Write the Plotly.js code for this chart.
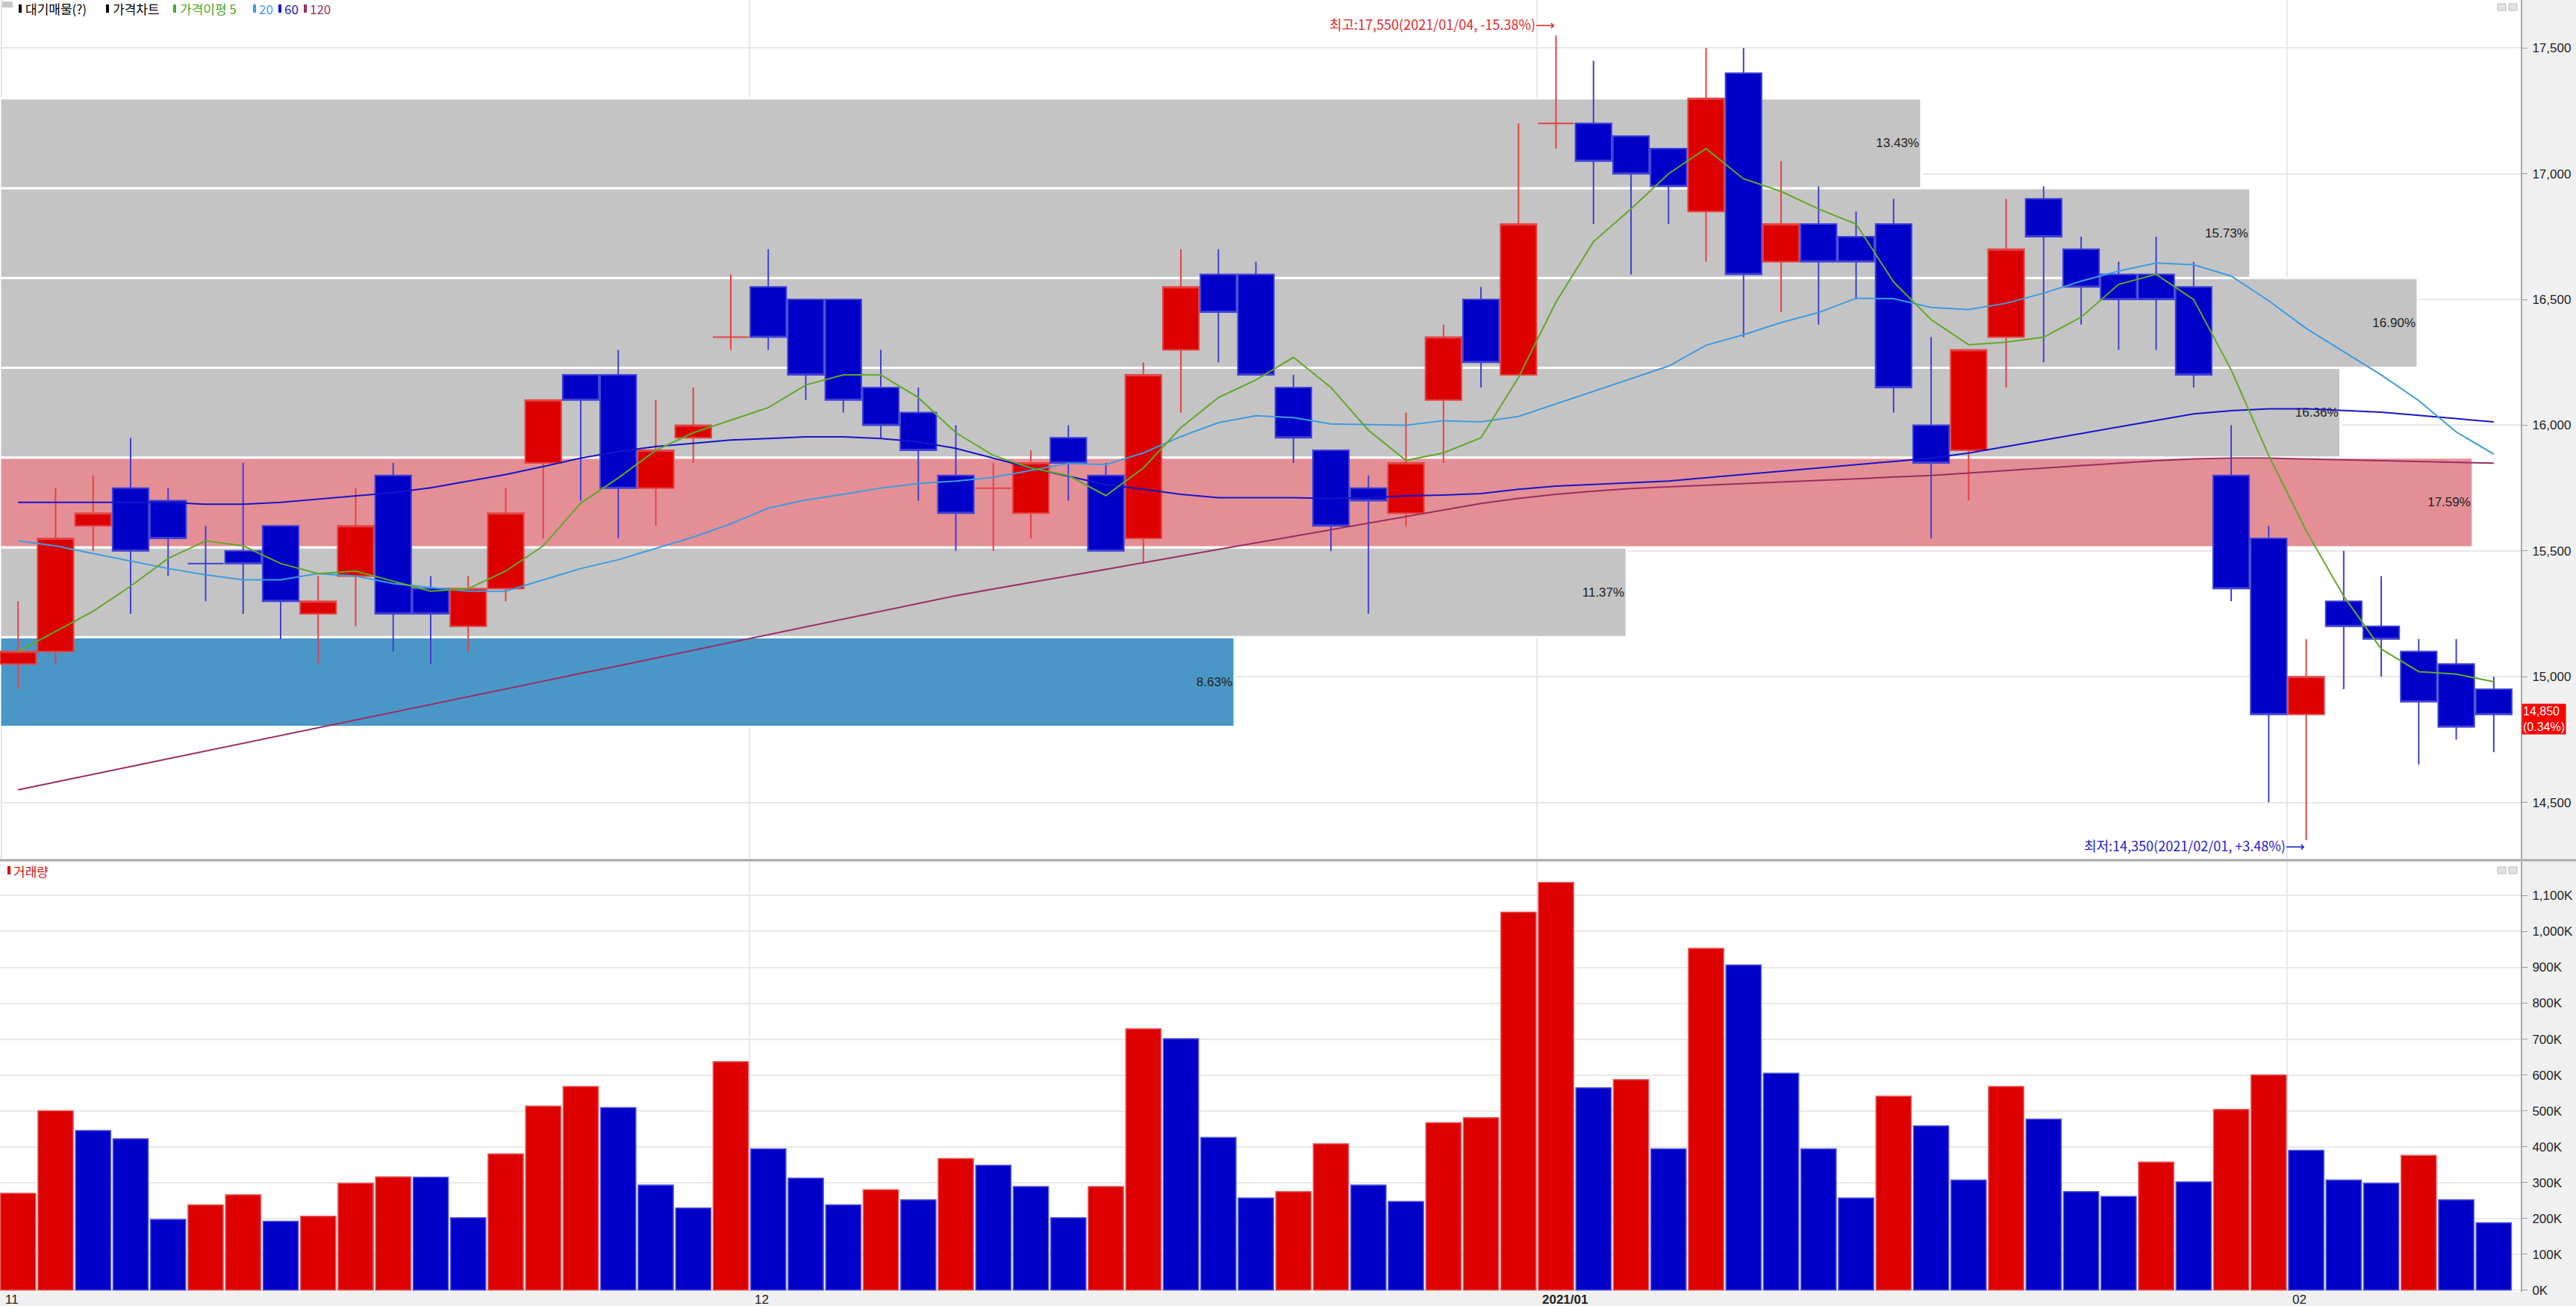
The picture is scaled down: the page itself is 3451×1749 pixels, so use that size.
<!DOCTYPE html>
<html><head><meta charset="utf-8">
<script src="https://cdn.plot.ly/plotly-3.0.1.min.js"></script>
<style>html,body{margin:0;padding:0;background:#f0f0f0;overflow:hidden}#chart{width:3451px;height:1749px}</style>
</head><body><div id="chart"></div>
<script>
// ---------------- data ----------------
const dates = ['2020/11/03','2020/11/04','2020/11/05','2020/11/06','2020/11/09','2020/11/10','2020/11/11','2020/11/12','2020/11/13','2020/11/16','2020/11/17','2020/11/18','2020/11/19','2020/11/20','2020/11/23','2020/11/24','2020/11/25','2020/11/26','2020/11/27','2020/11/30',
'2020/12/01','2020/12/02','2020/12/03','2020/12/04','2020/12/07','2020/12/08','2020/12/09','2020/12/10','2020/12/11','2020/12/14','2020/12/15','2020/12/16','2020/12/17','2020/12/18','2020/12/21','2020/12/22','2020/12/23','2020/12/24','2020/12/28','2020/12/29','2020/12/30',
'2021/01/04','2021/01/05','2021/01/06','2021/01/07','2021/01/08','2021/01/11','2021/01/12','2021/01/13','2021/01/14','2021/01/15','2021/01/18','2021/01/19','2021/01/20','2021/01/21','2021/01/22','2021/01/25','2021/01/26','2021/01/27','2021/01/28','2021/01/29',
'2021/02/01','2021/02/02','2021/02/03','2021/02/04','2021/02/05','2021/02/08'];
const open  = [15050,15100,15600,15750,15700,15450,15500,15600,15250,15400,15800,15350,15200,15350,15850,16200,16200,15750,15950,16350,16550,16500,16500,16150,16050,15800,15750,15650,15950,15800,15550,16300,16600,16600,16150,15900,15750,15650,16100,16500,16200,17200,17200,17150,17100,16850,17400,16650,16800,16750,16800,16000,15900,16350,16900,16700,16600,16600,16550,15800,15550,14850,15300,15200,15100,15050,14950];
const high  = [15300,15750,15800,15950,15750,15600,15850,15600,15400,15750,15850,15400,15400,15750,16100,16200,16300,16100,16150,16600,16700,16500,16500,16300,16150,16000,15850,15900,16000,15850,16250,16700,16700,16650,16200,15900,15800,16050,16400,16550,17200,17550,17450,17150,17100,17500,17500,17050,16950,16850,16900,16350,16300,16900,16950,16750,16650,16750,16650,16000,15600,15150,15500,15400,15150,15150,15000];
const low   = [14950,15050,15500,15250,15400,15300,15250,15150,15050,15200,15100,15050,15100,15300,15550,15700,15550,15600,15850,16300,16300,16100,16050,15950,15700,15500,15500,15550,15700,15500,15450,16050,16250,16200,15850,15500,15250,15600,15850,16150,16200,17100,16800,16600,16800,16650,16350,16450,16400,16500,16050,15550,15700,16150,16250,16400,16300,16300,16150,15300,14500,14350,14950,15000,14650,14750,14700];
const close = [15100,15550,15650,15500,15550,15450,15450,15300,15300,15600,15250,15250,15350,15650,16100,16100,15750,15900,16000,16350,16350,16200,16100,16000,15900,15650,15750,15850,15850,15500,16200,16550,16450,16200,15950,15600,15700,15850,16350,16250,16800,17200,17050,17000,16950,17300,16600,16800,16650,16650,16150,15850,16300,16700,16750,16550,16500,16500,16200,15350,14850,15000,15200,15150,14900,14800,14850];
const volume = [270000,500000,445000,422000,197000,238000,266000,192000,206000,298000,316000,315000,202000,380000,513000,568000,509000,293000,229000,637000,394000,312000,238000,280000,252000,367000,348000,289000,202000,289000,729000,701000,426000,257000,275000,408000,293000,247000,467000,481000,1054000,1137000,564000,587000,394000,953000,907000,605000,394000,257000,541000,458000,307000,568000,477000,275000,261000,357000,302000,504000,600000,390000,307000,298000,376000,252000,188000];
const ma5   = [15100,15180,15260,15360,15470,15540,15520,15450,15410,15420,15380,15340,15350,15420,15520,15690,15790,15900,15970,16020,16070,16160,16200,16200,16110,15970,15880,15830,15800,15720,15830,15990,16110,16180,16270,16150,15980,15860,15890,15950,16190,16490,16730,16860,17000,17100,16980,16930,16860,16800,16570,16420,16320,16330,16350,16430,16560,16600,16500,16220,15880,15580,15320,15110,15020,15010,14980];
const ma20  = [15540,15520,15490,15460,15430,15405,15385,15385,15410,15400,15370,15355,15340,15340,15385,15430,15465,15510,15555,15608,15670,15703,15725,15750,15768,15778,15793,15820,15848,15843,15890,15955,16010,16038,16030,16005,16003,16000,16018,16013,16035,16085,16133,16183,16235,16318,16360,16408,16448,16505,16503,16468,16460,16485,16525,16573,16613,16645,16638,16593,16495,16385,16293,16200,16098,15973,15885];
const ma60  = [15693,15693,15693,15693,15693,15686,15686,15693,15706,15719,15732,15751,15778,15804,15836,15869,15895,15915,15928,15941,15947,15954,15954,15947,15934,15908,15869,15830,15797,15764,15745,15725,15712,15712,15712,15709,15712,15719,15722,15728,15745,15758,15764,15771,15778,15791,15804,15817,15830,15843,15856,15869,15889,15915,15941,15967,15993,16019,16045,16058,16065,16065,16058,16052,16039,16026,16013];
const ma120 = [14550,14581,14611,14642,14672,14704,14735,14766,14797,14827,14858,14889,14920,14951,14982,15013,15043,15074,15105,15136,15167,15197,15228,15260,15291,15322,15349,15374,15401,15427,15454,15480,15506,15532,15558,15585,15611,15638,15664,15689,15709,15725,15738,15748,15755,15761,15768,15774,15781,15787,15794,15800,15810,15820,15830,15840,15849,15859,15866,15869,15869,15866,15862,15859,15856,15853,15849];
// waiting-supply (대기매물) bands, bottom to top, share of volume in %
const bandPct = [8.63, 11.37, 17.59, 16.36, 16.90, 15.73, 13.43];
const priceTicks = [14500, 15000, 15500, 16000, 16500, 17000, 17500];
const volTicks = [0,100000,200000,300000,400000,500000,600000,700000,800000,900000,1000000,1100000];

// ---------------- geometry / style ----------------
const W = 3451, H = 1749, MR = 74, MB = 19;
const PW = W - MR, PH = H - MB;
const px = v => v / PW;
const py = v => 1 - v / PH;
const RED = '#dc0000', BLUE = '#0000c8';
const FONT = 'Liberation Sans, Arial, sans-serif';
const KFONT = 'Noto Sans CJK KR, DejaVu Sans, sans-serif';
const idx = dates.map((d, i) => i);
const xr = [-0.482, 66.72];
const priceDom = [py(1150), 1], volDom = [0, py(1154)];
const priceRange = [14276, 17691], volRange = [-4800, 1194700];
const pctRange = 17.62, pctCap = 0.981 * pctRange;

// candle direction
const dir = close.map((c, i) => c > open[i] ? 1 : c < open[i] ? -1 : (i > 0 && c < close[i - 1] ? -1 : 1));
function sub(arr, d) { return arr.filter((v, i) => dir[i] === d); }
function candle(d, fill, line) {
  const s = {line: {color: line, width: 2}, fillcolor: fill};
  return {type: 'candlestick', xaxis: 'x2', yaxis: 'y', x: sub(idx, d), open: sub(open, d), high: sub(high, d),
    low: sub(low, d), close: sub(close, d), increasing: s, decreasing: s, whiskerwidth: 0, hoverinfo: 'skip', showlegend: false};
}

// bands
const lo = Math.min(...close), hi = Math.max(...close), step = (hi - lo) / bandPct.length;
const bandMid = bandPct.map((p, i) => lo + step * (i + 0.5));
const maxBand = bandPct.indexOf(Math.max(...bandPct));
const last = close[close.length - 1];
const curBand = Math.min(bandPct.length - 1, Math.floor((last - lo) / step));
const bandColor = bandPct.map((p, i) => i === curBand ? '#4a97c7' : i === maxBand ? '#e48f96' : '#c4c4c4');

const traces = [];
traces.push({type: 'bar', orientation: 'h', xaxis: 'x', yaxis: 'y', x: bandPct.map(p => Math.min(p, pctCap)), y: bandMid,
  width: step, base: 0, marker: {color: bandColor, line: {color: '#ffffff', width: 3}},
  text: bandPct.map(p => p.toFixed(2) + '%'), textposition: 'inside', insidetextanchor: 'end', constraintext: 'none',
  textangle: 0, insidetextfont: {family: FONT, size: 17, color: '#222'}, hoverinfo: 'skip', showlegend: false});
traces.push(candle(1, RED, '#e34444'));
traces.push(candle(-1, BLUE, '#4040d4'));
const maDefs = [[ma120, '#9a2e62'], [ma60, '#1515c8'], [ma20, '#3d9ce0'], [ma5, '#62a82a']];
maDefs.forEach(([arr, col]) => traces.push({type: 'scatter', mode: 'lines', xaxis: 'x2', yaxis: 'y', x: idx, y: arr,
  line: {color: col, width: 2}, hoverinfo: 'skip', showlegend: false}));
// volume
const vCol = volume.map((v, i) => (i === 0 || v > volume[i - 1]) ? RED : BLUE);
const vLine = volume.map((v, i) => (i === 0 || v > volume[i - 1]) ? '#e86060' : '#5a5ae0');
traces.push({type: 'bar', xaxis: 'x3', yaxis: 'y2', x: idx, y: volume, width: 0.94,
  marker: {color: vCol, line: {color: vLine, width: 1.5}}, hoverinfo: 'skip', showlegend: false});

// month boundaries
const bounds = [], mLabels = [];
dates.forEach((d, i) => {
  const m = d.slice(0, 7);
  if (i === 0 || m !== dates[i - 1].slice(0, 7)) {
    bounds.push(i - 0.5);
    const mm = d.slice(5, 7);
    mLabels.push(mm === '01' ? '<b>' + d.slice(0, 4) + '/' + mm + '</b>' : mm);
  }
});

const annotations = [];
bounds.forEach((b, j) => annotations.push({xref: 'x3', yref: 'paper', x: Math.max(b, xr[0]), y: 0, xanchor: 'left', yanchor: 'top',
  xshift: 5, yshift: 1, text: mLabels[j], showarrow: false, font: {family: FONT, size: 17, color: '#222'}}));

// high / low markers
const hiVal = Math.max(...high), hiIdx = high.indexOf(hiVal);
const loVal = Math.min(...low), loIdx = low.indexOf(loVal);
const fmt = v => v.toLocaleString('en-US');
const pct = (a, b) => ((a / b - 1) * 100);
annotations.push({xref: 'x2', yref: 'y', x: hiIdx, y: hiVal, xanchor: 'right', yanchor: 'bottom', showarrow: false, yshift: 0,
  text: '최고:' + fmt(hiVal) + '(' + dates[hiIdx] + ', ' + pct(last, hiVal).toFixed(2) + '%)⟶',
  font: {family: KFONT, size: 18, color: '#e3262b'}});
annotations.push({xref: 'x2', yref: 'y', x: loIdx, y: loVal, xanchor: 'right', yanchor: 'middle', showarrow: false, yshift: -7,
  text: '최저:' + fmt(loVal) + '(' + dates[loIdx] + ', +' + pct(last, loVal).toFixed(2) + '%)⟶',
  font: {family: KFONT, size: 18, color: '#1c1cd0'}});
// last price box
const chg = pct(last, close[close.length - 2]);
annotations.push({xref: 'paper', yref: 'y', x: 1, y: last, xanchor: 'left', yanchor: 'middle', xshift: 1, yshift: -6,
  text: fmt(last) + '<br>(' + chg.toFixed(2) + '%)', align: 'left', showarrow: false, bgcolor: '#ff0000', borderpad: 1,
  font: {family: FONT, size: 16, color: '#ffffff'}});

// legend (top-left) and volume legend
const shapes = [];
const legendItems = [
  {mx: 25, tx: 32, text: '대기매물(?)', mc: '#000', tc: '#000'},
  {mx: 142, tx: 149, text: '가격차트', mc: '#000', tc: '#000'},
  {mx: 232, tx: 239, text: '가격이평 5', mc: '#4ea82a', tc: '#4ea82a'},
  {mx: 339, tx: 345, text: '20', mc: '#3d9ce0', tc: '#3d9ce0'},
  {mx: 373, tx: 379, text: '60', mc: '#1515c8', tc: '#1515c8'},
  {mx: 407, tx: 413, text: '120', mc: '#9a2e62', tc: '#9a2e62'}
];
function legendRow(items, cy) {
  items.forEach(it => {
    shapes.push({type: 'rect', xref: 'paper', yref: 'paper', x0: px(it.mx), x1: px(it.mx + 4), y0: py(cy - 6), y1: py(cy + 5),
      fillcolor: it.mc, line: {width: 0}});
    annotations.push({xref: 'paper', yref: 'paper', x: px(it.tx), y: py(cy), xanchor: 'left', yanchor: 'middle',
      text: it.text, showarrow: false, font: {family: KFONT, size: 17, color: it.tc}});
  });
}
legendRow(legendItems, 12);
legendRow([{mx: 10, tx: 16, text: '거래량', mc: RED, tc: '#d01010'}], 1166);
shapes.push({type: 'rect', xref: 'paper', yref: 'paper', x0: px(3), x1: px(17), y0: py(10), y1: py(2), fillcolor: '#c8c8c8', line: {width: 0}});
// window icons
[5, 1161].forEach(t => [3346, 3361].forEach(l => shapes.push({type: 'rect', xref: 'paper', yref: 'paper',
  x0: px(l), x1: px(l + 11), y0: py(t + 9), y1: py(t), fillcolor: '#e2e2e2', line: {color: '#b8b8b8', width: 1}})));
// pane separator & left edge
shapes.push({type: 'line', xref: 'paper', yref: 'paper', x0: 0, x1: W / PW, y0: py(1152), y1: py(1152), line: {color: '#a9a9a9', width: 3}});
shapes.push({type: 'line', xref: 'paper', yref: 'paper', x0: px(2), x1: px(2), y0: py(1150), y1: 1, line: {color: '#e4e4e4', width: 2}, layer: 'below'});

const grid = '#e9e9e9';
const yCommon = {side: 'right', ticks: 'outside', ticklen: 7, tickwidth: 1, tickcolor: '#9a9a9a', showline: true,
  linecolor: '#a9a9a9', linewidth: 2, gridcolor: grid, gridwidth: 2, zeroline: false, fixedrange: true,
  tickfont: {family: FONT, size: 17, color: '#222'}, ticklabelstandoff: 3};
const layout = {
  width: W, height: H, margin: {l: 0, r: MR, t: 0, b: MB, pad: 0},
  paper_bgcolor: '#f0f0f0', plot_bgcolor: '#ffffff', showlegend: false, hovermode: false, dragmode: false,
  boxgap: 0.04, boxgroupgap: 0,
  xaxis: {domain: [0, 1], range: [0, pctRange], anchor: 'y', visible: false, fixedrange: true},
  xaxis2: {overlaying: 'x', anchor: 'y', range: xr, tickvals: bounds, showticklabels: false, ticks: '', showgrid: true,
    gridcolor: grid, gridwidth: 2, zeroline: false, rangeslider: {visible: false}, fixedrange: true},
  xaxis3: {domain: [0, 1], anchor: 'y2', range: xr, tickvals: bounds, showticklabels: false, ticks: '', showgrid: true,
    gridcolor: grid, gridwidth: 2, zeroline: false, rangeslider: {visible: false}, fixedrange: true},
  yaxis: Object.assign({}, yCommon, {domain: priceDom, range: priceRange, anchor: 'x', tickvals: priceTicks, tickformat: ','}),
  yaxis2: Object.assign({}, yCommon, {domain: volDom, range: volRange, anchor: 'x3', tickvals: volTicks,
    ticktext: volTicks.map(v => fmt(v / 1000) + 'K')}),
  annotations: annotations, shapes: shapes
};
Plotly.newPlot('chart', traces, layout, {staticPlot: true, displayModeBar: false});
</script></body></html>
